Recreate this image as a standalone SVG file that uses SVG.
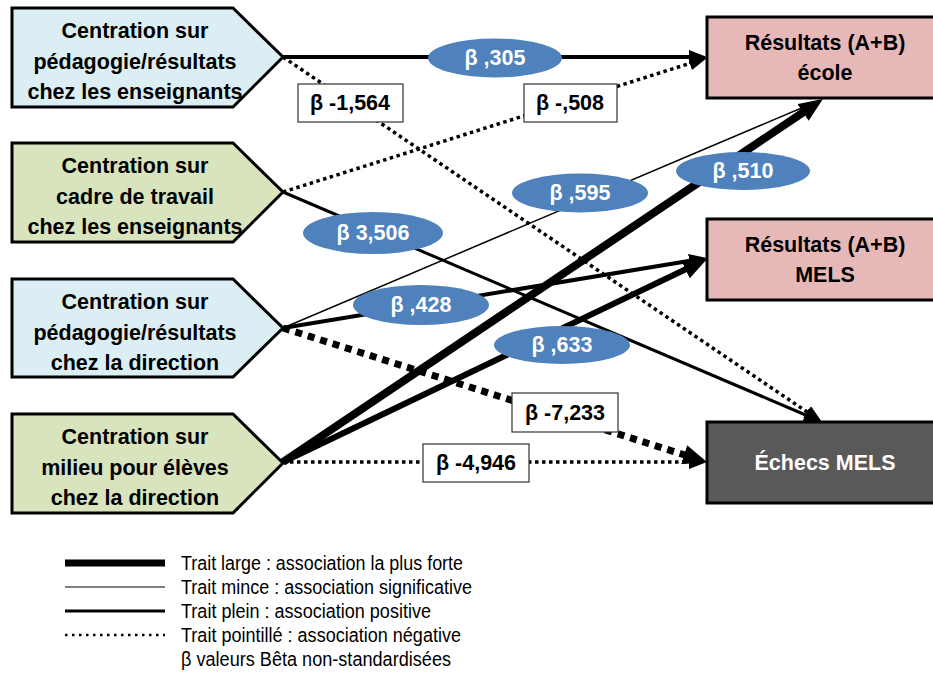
<svg xmlns="http://www.w3.org/2000/svg" width="933" height="679" viewBox="0 0 933 679">
<style>
.src{stroke:#000;stroke-width:3;stroke-linejoin:miter}
.blue{fill:#DAEEF3}.green{fill:#D7E4BD}
.tgt{fill:#E6B9B8;stroke:#000;stroke-width:3}
.dark{fill:#595959;stroke:#000;stroke-width:3}
.t{font-family:"Liberation Sans",Arial,sans-serif;font-weight:bold;font-size:21.5px;text-anchor:middle;fill:#000}
.w{fill:#fff}
.ell{fill:#4F81BD}
.box{fill:#fff;stroke:#333;stroke-width:1.2}
.ln{fill:none;stroke:#000}
.dot{stroke-dasharray:3.5 3.5}
.leg{font-family:"Liberation Sans",Arial,sans-serif;font-size:20px;fill:#000}
</style>
<defs>
<marker id="ah" markerUnits="userSpaceOnUse" markerWidth="18" markerHeight="14" refX="4" refY="7" orient="auto"><path d="M0,0 L18,7 L0,14 Z" fill="#000"/></marker>
<marker id="ahL" markerUnits="userSpaceOnUse" markerWidth="24" markerHeight="20" refX="5" refY="10" orient="auto"><path d="M0,0 L24,10 L0,20 Z" fill="#000"/></marker>
</defs>

<g id="n1"><polygon class="src blue" points="12,8 233,8 283,57 233,107 12,107"/>
<text class="t" x="135" y="38">Centration sur</text><text class="t" x="135" y="69">pédagogie/résultats</text><text class="t" x="135" y="99">chez les enseignants</text></g>
<g id="n2"><polygon class="src green" points="12,143 233,143 283,192 233,242 12,242"/>
<text class="t" x="135" y="173">Centration sur</text><text class="t" x="135" y="204">cadre de travail</text><text class="t" x="135" y="234">chez les enseignants</text></g>
<g id="n3"><polygon class="src blue" points="12,279 233,279 283,328 233,377 12,377"/>
<text class="t" x="135" y="309">Centration sur</text><text class="t" x="135" y="340">pédagogie/résultats</text><text class="t" x="135" y="370">chez la direction</text></g>
<g id="n4"><polygon class="src green" points="12,414 233,414 283,463 233,513 12,513"/>
<text class="t" x="135" y="444">Centration sur</text><text class="t" x="135" y="475">milieu pour élèves</text><text class="t" x="135" y="505">chez la direction</text></g>

<g id="t1"><rect class="tgt" x="707" y="17" width="240" height="81"/>
<text class="t" x="825" y="50">Résultats (A+B)</text><text class="t" x="825" y="80">école</text></g>
<g id="t2"><rect class="tgt" x="707" y="219" width="240" height="81"/>
<text class="t" x="825" y="252">Résultats (A+B)</text><text class="t" x="825" y="282">MELS</text></g>
<g id="t3"><rect class="dark" x="707" y="422" width="240" height="81"/>
<text class="t w" x="825" y="470">Échecs MELS</text></g>

<g id="connectors">
<line class="ln" x1="283" y1="57" x2="693" y2="57" stroke-width="4" marker-end="url(#ah)"/>
<line class="ln dot" x1="283" y1="57" x2="810.4" y2="414.2" stroke-width="3.5" marker-end="url(#ah)"/>
<line class="ln dot" x1="283" y1="192" x2="693.6" y2="62.2" stroke-width="3.5" marker-end="url(#ah)"/>
<line class="ln" x1="283" y1="192" x2="809.1" y2="416.5" stroke-width="3" marker-end="url(#ah)"/>
<line class="ln" x1="283" y1="328" x2="818" y2="101" stroke-width="1.5"/>
<line class="ln" x1="283" y1="328" x2="693.2" y2="260.3" stroke-width="4" marker-end="url(#ah)"/>
<line class="ln" x1="283" y1="328" x2="688.9" y2="456.3" stroke-width="7" stroke-dasharray="7 6" marker-end="url(#ahL)"/>
<line class="ln" x1="283" y1="462" x2="807.2" y2="109.6" stroke-width="8" marker-end="url(#ahL)"/>
<line class="ln" x1="283" y1="462" x2="689.9" y2="267.2" stroke-width="6" marker-end="url(#ahL)"/>
<line class="ln dot" x1="283" y1="462" x2="693" y2="462" stroke-width="3.5" marker-end="url(#ah)"/>

<ellipse class="ell" cx="495" cy="58" rx="67" ry="19.5"/><text class="t w" x="495" y="65">β ,305</text>
<rect class="box" x="298" y="84" width="105" height="38"/><text class="t" x="350" y="110">β -1,564</text>
<rect class="box" x="524" y="84" width="93" height="38"/><text class="t" x="570" y="110">β -,508</text>
<ellipse class="ell" cx="743" cy="171" rx="67" ry="19"/><text class="t w" x="743" y="178">β ,510</text>
<ellipse class="ell" cx="580" cy="193" rx="68" ry="19.5"/><text class="t w" x="580" y="200">β ,595</text>
<ellipse class="ell" cx="373" cy="233" rx="70" ry="21"/><text class="t w" x="373" y="240">β 3,506</text>
<ellipse class="ell" cx="421" cy="305" rx="68" ry="20"/><text class="t w" x="421" y="312">β ,428</text>
<ellipse class="ell" cx="562" cy="345" rx="68" ry="19"/><text class="t w" x="562" y="352">β ,633</text>
<rect class="box" x="512" y="393" width="106" height="39"/><text class="t" x="565" y="420">β -7,233</text>
<rect class="box" x="423" y="444" width="106" height="38"/><text class="t" x="476" y="470">β -4,946</text>
</g>

<g id="legend">
<line class="ln" x1="65" y1="563" x2="165" y2="563" stroke-width="7"/>
<line class="ln" x1="65" y1="587" x2="165" y2="587" stroke-width="1"/>
<line class="ln" x1="65" y1="611" x2="165" y2="611" stroke-width="3"/>
<line class="ln" x1="65" y1="635" x2="165" y2="635" stroke-width="2.5" stroke-dasharray="2.5 4.5"/>
<text class="leg" x="181" y="570" textLength="282" lengthAdjust="spacingAndGlyphs">Trait large : association la plus forte</text>
<text class="leg" x="181" y="594" textLength="291" lengthAdjust="spacingAndGlyphs">Trait mince : association significative</text>
<text class="leg" x="181" y="618" textLength="250" lengthAdjust="spacingAndGlyphs">Trait plein : association positive</text>
<text class="leg" x="181" y="642" textLength="280" lengthAdjust="spacingAndGlyphs">Trait pointillé : association négative</text>
<text class="leg" x="181" y="666" textLength="270" lengthAdjust="spacingAndGlyphs">β valeurs Bêta non-standardisées</text>
</g>
</svg>
